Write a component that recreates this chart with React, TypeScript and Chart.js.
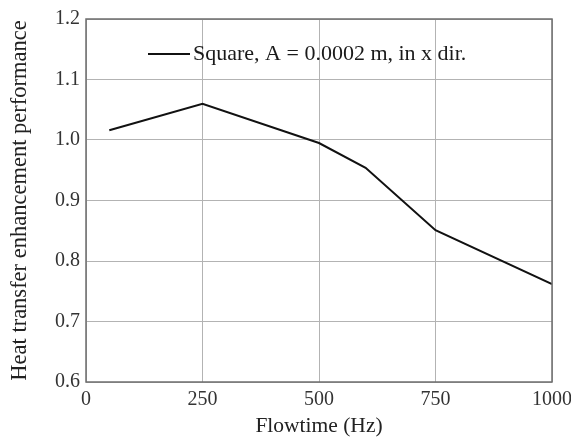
import React, { useEffect, useRef } from "react";
import Chart from "chart.js/auto";

const flowtime = [50, 250, 500, 600, 750, 1000];
const performance = [1.016, 1.06, 0.995, 0.954, 0.851, 0.762];
const seriesLabel = "Square, A = 0.0002 m, in x dir.";
const xTitle = "Flowtime (Hz)";
const yTitle = "Heat transfer enhancement performance";

const FONT = "'Liberation Serif', 'Times New Roman', serif";

const frameAndLegend = {
  id: "frameAndLegend",
  afterDraw(chart: any) {
    const { ctx, chartArea } = chart;
    const { left, top, right, bottom } = chartArea;
    ctx.save();
    ctx.strokeStyle = "#6e6e6e";
    ctx.lineWidth = 1.5;
    ctx.strokeRect(left, top, right - left, bottom - top);
    // legend
    const y = top + 35;
    const x0 = left + 62;
    ctx.strokeStyle = "#111";
    ctx.lineWidth = 2;
    ctx.beginPath();
    ctx.moveTo(x0, y);
    ctx.lineTo(x0 + 42, y);
    ctx.stroke();
    ctx.fillStyle = "#1a1a1a";
    ctx.font = `22px ${FONT}`;
    ctx.textBaseline = "middle";
    ctx.textAlign = "left";
    ctx.fillText(chart.data.datasets[0].label, x0 + 45, y);
    ctx.restore();
  },
};

export default function App() {
  const ref = useRef<HTMLCanvasElement>(null);
  useEffect(() => {
    if (!ref.current) return;
    const chart = new Chart(ref.current, {
      type: "line",
      data: {
        datasets: [
          {
            label: seriesLabel,
            data: flowtime.map((x, i) => ({ x, y: performance[i] })),
            borderColor: "#111",
            borderWidth: 2,
            pointRadius: 0,
            tension: 0,
            fill: false,
          },
        ],
      },
      options: {
        responsive: false,
        animation: false,
        layout: { padding: { top: 19, right: 19, left: 0, bottom: 0 } },
        plugins: {
          legend: { display: false },
          tooltip: { enabled: false },
        },
        scales: {
          x: {
            type: "linear",
            min: 0,
            max: 1000,
            ticks: {
              stepSize: 250,
              padding: 6,
              color: "#333",
              font: { family: FONT, size: 20 },
              maxRotation: 0,
              callback: (v: any) => String(v),
            },
            grid: { color: "#b3b3b3", lineWidth: 1, drawTicks: false },
            border: { display: false },
            title: {
              display: true,
              text: xTitle,
              color: "#222",
              font: { family: FONT, size: 21.5, lineHeight: 1 },
              padding: { top: 0, bottom: 0 },
            },
            afterFit: (scale: any) => {
              scale.height = 55;
              scale.paddingLeft = 0;
              scale.paddingRight = 0;
            },
          },
          y: {
            type: "linear",
            min: 0.6,
            max: 1.2,
            ticks: {
              stepSize: 0.1,
              padding: 6,
              color: "#333",
              font: { family: FONT, size: 20 },
              callback: (v: any) => Number(v).toFixed(1),
            },
            grid: { color: "#b3b3b3", lineWidth: 1, drawTicks: false },
            border: { display: false },
            title: {
              display: true,
              text: yTitle,
              color: "#222",
              font: { family: FONT, size: 22.5, lineHeight: 1 },
              padding: { top: 9, bottom: 0 },
            },
            afterFit: (scale: any) => {
              scale.width = 86;
              scale.paddingTop = 0;
              scale.paddingBottom = 0;
            },
          },
        },
      },
      plugins: [frameAndLegend],
    });
    return () => chart.destroy();
  }, []);
  return (
    <div style={{ position: "fixed", left: 0, top: 0, width: 571, height: 437, background: "#fff" }}>
      <canvas ref={ref} width={571} height={437} />
    </div>
  );
}
